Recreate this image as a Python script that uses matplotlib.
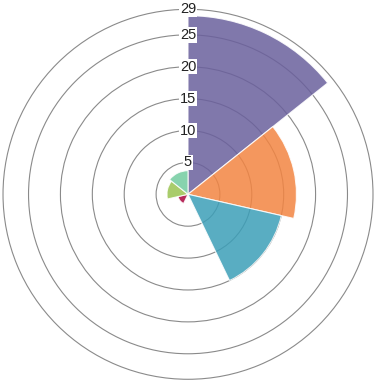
import numpy as np
import matplotlib
matplotlib.use("Agg")
import matplotlib.pyplot as plt

# ─── data (clockwise from 12 o'clock) ────────────────────────────────────────
values = [28, 17, 15, 0, 1.6, 3.3, 3.7]
colors = ["#6a609d", "#f38542", "#3c9fb8", "#d0d0d0", "#ab043e", "#9ac451", "#72cca0"]
ring_ticks = [5, 10, 15, 20, 25, 29]
r_max = 29

plt.rcParams["font.family"] = ["Liberation Sans", "DejaVu Sans"]

fig = plt.figure(figsize=(3.80, 3.83), dpi=100)
ax = fig.add_axes([0.0079, 0.0097, 0.9737, 0.966], projection="polar")

n = len(values)
width = 2 * np.pi / n
theta = np.arange(n) * width + width / 2

ax.set_theta_zero_location("N")
ax.set_theta_direction(-1)

# semi-transparent wedges so the rings show through, as in the original
ax.bar(theta, values, width=width, bottom=0, color=colors, alpha=0.85,
       edgecolor="white", linewidth=0.8, zorder=2)

ax.set_ylim(0, r_max)
ax.set_xticks([])
ax.set_yticks(ring_ticks)
ax.set_yticklabels([])
ax.yaxis.grid(True, color="#8a8a8a", lw=0.8, zorder=1)
for gl in ax.yaxis.get_gridlines():
    gl.set_clip_on(False)
ax.xaxis.grid(False)
ax.spines["polar"].set_visible(False)
ax.set_axisbelow(True)

for r in ring_ticks:
    ax.text(0, r, str(r), ha="center", va="center", fontsize=10.5,
            color="#222222", zorder=3,
            bbox=dict(boxstyle="square,pad=0.05", fc="white", ec="none"))

fig.savefig("out.png", dpi=100)
